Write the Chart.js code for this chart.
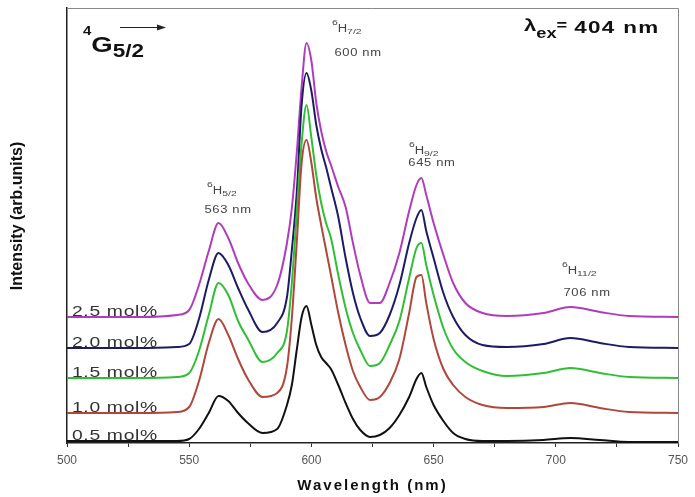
<!DOCTYPE html>
<html>
<head>
<meta charset="utf-8">
<script src="https://cdn.jsdelivr.net/npm/chart.js@4.4.0/dist/chart.umd.min.js"></script>
<style>
html, body { margin: 0; padding: 0; background: #fff; }
#wrap { width: 695px; height: 497px; }
</style>
</head>
<body>
<div id="wrap"><canvas id="chart" width="695" height="497"></canvas></div>
<script>
// Emission spectra, stacked (intensity in arbitrary units)
const wavelengths = [500, 530, 545, 550, 554, 558, 562, 566, 570, 574, 580, 586, 590, 592, 594, 596, 598, 600, 602, 604, 606, 608, 611, 614, 617, 620, 624, 628, 632, 636, 640, 643, 645, 647, 650, 654, 658, 663, 670, 680, 695, 706, 718, 730, 750];

const conc05 = [2, 2, 2, 4, 14, 30, 47, 42, 30, 20, 10, 14, 38, 58, 93, 126, 137, 118, 98, 86, 80, 74, 58, 40, 24, 13, 6, 8, 15, 28, 46, 64, 70, 56, 38, 22, 10, 4, 2, 2, 3, 5, 3, 1, 1];
const conc10 = [30, 30, 31, 36, 62, 100, 124, 108, 84, 64, 46, 50, 76, 125, 200, 280, 303, 280, 245, 218, 193, 168, 130, 98, 72, 56, 43, 46, 60, 84, 130, 166, 168, 140, 104, 74, 58, 46, 38, 35, 36, 40, 35, 31, 30];
const conc15 = [65, 65, 66, 70, 92, 128, 160, 148, 122, 104, 81, 90, 112, 160, 230, 300, 338, 305, 268, 240, 220, 205, 168, 135, 110, 93, 77, 80, 98, 122, 165, 195, 200, 178, 148, 115, 94, 81, 72, 67, 70, 75, 70, 66, 65];
const conc20 = [95, 95, 96, 99, 124, 163, 190, 178, 155, 134, 111, 120, 146, 193, 250, 338, 370, 352, 318, 294, 276, 256, 226, 185, 150, 125, 107, 110, 128, 158, 200, 225, 233, 212, 185, 150, 126, 108, 98, 96, 99, 105, 100, 96, 95];
const conc25 = [126, 126, 128, 133, 158, 192, 220, 205, 180, 160, 143, 158, 200, 235, 290, 356, 400, 382, 340, 312, 292, 278, 256, 236, 200, 168, 140, 140, 160, 190, 232, 258, 265, 248, 220, 188, 160, 140, 130, 127, 130, 136, 131, 127, 126];

const seriesNames = ['0.5 mol%', '1.0 mol%', '1.5 mol%', '2.0 mol%', '2.5 mol%'];
const seriesValues = [conc05, conc10, conc15, conc20, conc25];
const seriesColors = ['#111111', '#b0473a', '#2fbf35', '#1c1c66', '#b03cbc'];

// Peak labels: transition, wavelength text
const peakLevels = [['6', 'H', '5/2'], ['6', 'H', '7/2'], ['6', 'H', '9/2'], ['6', 'H', '11/2']];
const peakNm = ['563 nm', '600 nm', '645 nm', '706 nm'];

const FONT = '"Liberation Sans", Arial, sans-serif';

// the original figure is stretched sideways, so text is drawn with a horizontal scale
function drawStretched(ctx, text, x, y, sx) {
    ctx.save();
    ctx.translate(x, y);
    ctx.scale(sx, 1);
    ctx.fillText(text, 0, 0);
    const w = ctx.measureText(text).width * sx;
    ctx.restore();
    return w;
}

function drawRich(ctx, x, y, parts, sx) {
    // parts: [text, fontSize, dy, bold]
    let cx = x;
    parts.forEach(([text, size, dy, bold]) => {
        ctx.font = `${bold ? 'bold ' : ''}${size}px ${FONT}`;
        cx += drawStretched(ctx, text, cx, y + dy, sx);
    });
    return cx;
}

const annotations = {
    id: 'annotations',
    afterDraw(chart) {
        const { ctx, chartArea, scales: { x, y } } = chart;
        ctx.save();

        // top / right frame
        ctx.strokeStyle = '#888';
        ctx.lineWidth = 1;
        ctx.beginPath();
        ctx.moveTo(chartArea.left, chartArea.top + 0.5);
        ctx.lineTo(chartArea.right + 0.5, chartArea.top + 0.5);
        ctx.lineTo(chartArea.right + 0.5, chartArea.bottom);
        ctx.stroke();

        // series labels sitting on each baseline
        ctx.fillStyle = '#333';
        ctx.textBaseline = 'alphabetic';
        ctx.textAlign = 'left';
        ctx.letterSpacing = '0.5px';
        ctx.font = `14px ${FONT}`;
        seriesNames.forEach((name, i) => {
            drawStretched(ctx, name, x.getPixelForValue(502), y.getPixelForValue(seriesValues[i][0]) - 1, 1.38);
        });

        // peak annotations
        const nmPos = [[565.9, 233], [619.1, 390], [649.3, 280], [712.8, 150]];
        const levelPos = [[557.3, 252], [608.4, 414], [639.9, 292], [702.5, 172]];
        ctx.fillStyle = '#444';
        ctx.textBaseline = 'middle';
        peakNm.forEach((label, i) => {
            ctx.letterSpacing = '0.5px';
            ctx.font = `10px ${FONT}`;
            const w = ctx.measureText(label).width * 1.3;
            drawStretched(ctx, label, x.getPixelForValue(nmPos[i][0]) - w / 2, y.getPixelForValue(nmPos[i][1]), 1.3);
            ctx.letterSpacing = '0px';
            const [sup, base, sub] = peakLevels[i];
            drawRich(ctx, x.getPixelForValue(levelPos[i][0]), y.getPixelForValue(levelPos[i][1]),
                [[sup, 8, -6, false], [base, 10, 0, false], [sub, 8, 3, false]], 1.3);
        });

        // 4G5/2 -> header
        ctx.fillStyle = '#111';
        ctx.letterSpacing = '0px';
        ctx.textBaseline = 'alphabetic';
        const hx = chartArea.left + 16;
        drawRich(ctx, hx, chartArea.top + 44, [['4', 12, -17, true], ['G', 22, 0, true], ['5/2', 18, 5, true]], 1.25);
        ctx.strokeStyle = '#222';
        ctx.lineWidth = 1;
        ctx.beginPath();
        ctx.moveTo(hx + 37, chartArea.top + 19.5);
        ctx.lineTo(hx + 77, chartArea.top + 19.5);
        ctx.stroke();
        ctx.beginPath();
        ctx.moveTo(hx + 83, chartArea.top + 19.5);
        ctx.lineTo(hx + 74, chartArea.top + 16.5);
        ctx.lineTo(hx + 74, chartArea.top + 22.5);
        ctx.closePath();
        ctx.fillStyle = '#222';
        ctx.fill();

        // excitation wavelength
        ctx.fillStyle = '#111';
        let ex = drawRich(ctx, 524, 31, [['λ', 17, 0, true], ['ex', 14, 7, true], ['= ', 14, -1, true]], 1.3);
        ctx.letterSpacing = '1px';
        ctx.font = `bold 17px ${FONT}`;
        drawStretched(ctx, '404 nm', ex + 2, 33, 1.32);

        // axis titles
        ctx.textAlign = 'center';
        ctx.textBaseline = 'middle';
        ctx.letterSpacing = '2px';
        ctx.font = `bold 15px ${FONT}`;
        ctx.fillText('Wavelength (nm)', (chartArea.left + chartArea.right) / 2, 486);
        ctx.letterSpacing = '0px';
        ctx.translate(18, 216);
        ctx.rotate(-Math.PI / 2);
        ctx.font = `bold 16px ${FONT}`;
        ctx.fillText('Intensity (arb.units)', 0, 0);
        ctx.restore();
    }
};

const datasets = seriesNames.map((name, i) => ({
    label: name,
    data: seriesValues[i].map((v, j) => ({ x: wavelengths[j], y: v })),
    borderColor: seriesColors[i],
    borderWidth: 2,
    pointRadius: 0,
    fill: false,
    cubicInterpolationMode: 'monotone'
}));

new Chart(document.getElementById('chart'), {
    type: 'line',
    data: { datasets },
    options: {
        responsive: false,
        animation: false,
        layout: { padding: { left: 0, right: 17, top: 8, bottom: 0 } },
        plugins: {
            legend: { display: false },
            tooltip: { enabled: false }
        },
        scales: {
            x: {
                type: 'linear',
                min: 500,
                max: 750,
                afterFit: (scale) => { scale.height = 54; },
                ticks: {
                    stepSize: 25,
                    autoSkip: false,
                    maxRotation: 0,
                    padding: 6,
                    color: '#555',
                    font: { family: FONT, size: 12 },
                    callback: (v) => (v % 50 === 0 ? v : '')
                },
                grid: {
                    drawOnChartArea: false,
                    drawTicks: true,
                    tickLength: 4,
                    tickColor: '#333'
                },
                border: { color: '#222', width: 1.5 }
            },
            y: {
                min: 0,
                max: 435,
                afterFit: (scale) => { scale.width = 67; },
                ticks: { display: false },
                grid: { display: false },
                border: { color: '#222', width: 1.5 }
            }
        }
    },
    plugins: [annotations]
});
</script>
</body>
</html>
